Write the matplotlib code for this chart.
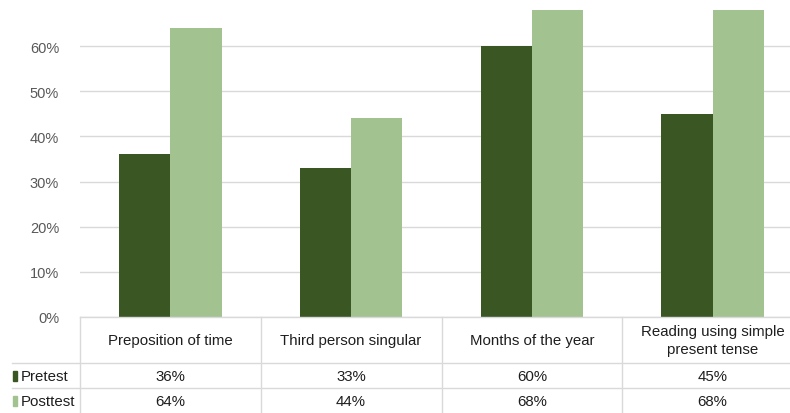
import matplotlib
matplotlib.use("Agg")
import matplotlib.pyplot as plt
from matplotlib.lines import Line2D
from matplotlib.patches import Rectangle
import matplotlib.transforms as mtransforms
import numpy as np

categories = ["Preposition of time", "Third person singular", "Months of the year",
              "Reading using simple\npresent tense"]
series_names = ["Pretest", "Posttest"]
pretest = [0.36, 0.33, 0.60, 0.45]
posttest = [0.64, 0.44, 0.68, 0.68]
colors = ["#3a5623", "#a2c38f"]

W, H = 790, 414
plt.rcParams['font.family'] = ['Liberation Sans', 'DejaVu Sans']

fig = plt.figure(figsize=(W / 100, H / 100), dpi=100)


def fx(px):
    return px / W


def fy(py):
    return 1 - py / H


# plot area: 0% at y=318, 70% at y~2; category width ~180.7 px (right side cropped)
ax = fig.add_axes([fx(80), fy(318), fx(803) - fx(80), fy(2) - fy(318)])
x = np.arange(len(categories))
bw = 0.283
ax.bar(x - bw / 2, pretest, bw, color=colors[0], zorder=3)
ax.bar(x + bw / 2, posttest, bw, color=colors[1], zorder=3)
ax.set_xlim(-0.5, len(categories) - 0.5)
ax.set_ylim(0, 0.70)
ax.set_yticks(np.arange(0, 0.61, 0.1))
ax.set_yticklabels([f"{int(round(v * 100))}%" for v in np.arange(0, 0.61, 0.1)])
ax.yaxis.grid(True, color="#d9d9d9", linewidth=1, zorder=0)
ax.set_xticks([])
for s in ax.spines.values():
    s.set_visible(False)
ax.tick_params(axis="y", length=0, pad=15, labelsize=10.5, labelcolor="#595959")

grid_c = "#d9d9d9"
# table lines
fig.add_artist(Line2D([fx(80), 1], [fy(318), fy(318)], color=grid_c, lw=1))
for yy in (364, 389):
    fig.add_artist(Line2D([fx(12), 1], [fy(yy), fy(yy)], color=grid_c, lw=1))
trans = mtransforms.blended_transform_factory(ax.transData, fig.transFigure)
for i in range(len(categories) + 1):
    fig.add_artist(Line2D([i - 0.5, i - 0.5], [fy(318), 0], color=grid_c, lw=1,
                          transform=trans))

txt_c = "#1e1e1e"
fs = 10.8
for i, c in enumerate(categories):
    fig.text(i, fy(341), c, transform=trans, ha="center", va="center",
             fontsize=fs, color=txt_c, linespacing=1.3)
    fig.text(i, fy(377), f"{int(round(pretest[i] * 100))}%", transform=trans,
             ha="center", va="center", fontsize=fs, color=txt_c)
    fig.text(i, fy(402), f"{int(round(posttest[i] * 100))}%", transform=trans,
             ha="center", va="center", fontsize=fs, color=txt_c)

for name, col, yy in zip(series_names, colors, (377, 402)):
    fig.add_artist(Rectangle((fx(13), fy(yy + 5)), fx(4), fy(yy - 5) - fy(yy + 5),
                             color=col, transform=fig.transFigure))
    fig.text(fx(21), fy(yy), name, ha="left", va="center", fontsize=fs, color=txt_c)

fig.savefig("out.png", dpi=100)
